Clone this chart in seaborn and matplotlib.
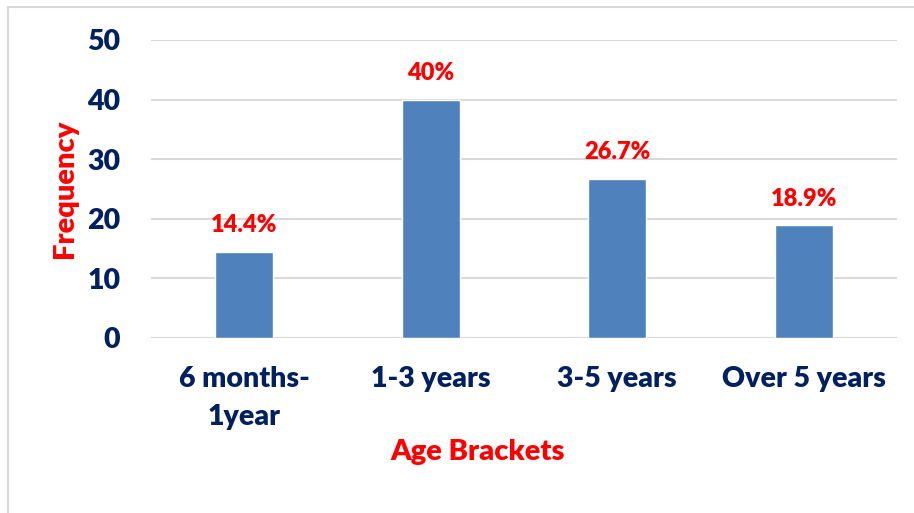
import matplotlib
matplotlib.use("Agg")
import matplotlib.pyplot as plt
import seaborn as sns
import pandas as pd

categories = ["6 months-\n1year", "1-3 years", "3-5 years", "Over 5 years"]
frequency = [14.4, 40, 26.7, 18.9]
value_labels = ["14.4%", "40%", "26.7%", "18.9%"]
y_ticks = [0, 10, 20, 30, 40, 50]

sns.set_theme(style="white")
plt.rcParams["font.family"] = ["Lato", "DejaVu Sans"]

navy = "#002060"
red = "#FF0000"
bar_color = "#4F81BD"
weight = "heavy"

df = pd.DataFrame({"Age Brackets": categories, "Frequency": frequency})

fig = plt.figure(figsize=(9.14, 5.13), dpi=100)
ax = fig.add_axes([151 / 914, 1 - 338 / 513, (897 - 151) / 914, (338 - 40) / 513])

sns.barplot(data=df, x="Age Brackets", y="Frequency", color=bar_color,
            width=0.31, saturation=1, ax=ax, zorder=3)

ax.set_ylim(0, 50)
ax.set_xlim(-0.5, 3.5)
ax.set_yticks(y_ticks)
ax.yaxis.grid(True, color="#D9D9D9", linewidth=1.5, zorder=0)
for s in ax.spines.values():
    s.set_visible(False)
ax.tick_params(axis="both", length=0)
ax.tick_params(axis="y", pad=22)
ax.tick_params(axis="x", pad=20)
for t in ax.get_yticklabels() + ax.get_xticklabels():
    t.set_color(navy)
    t.set_fontweight(weight)
    t.set_fontsize(20.5)
for t in ax.get_xticklabels():
    t.set_linespacing(1.6)

for i, (v, lab) in enumerate(zip(frequency, value_labels)):
    ax.text(i, v + 4.5, lab, ha="center", va="center", color=red,
            fontsize=17, fontweight=weight)

ax.set_ylabel("Frequency", color=red, fontsize=21, fontweight=weight)
ax.set_xlabel("Age Brackets", color=red, fontsize=21, fontweight=weight)
ax.yaxis.set_label_coords((65 - 151) / 746, 0.5)
ax.xaxis.set_label_coords((478 - 151) / 746, -(452 - 338) / 298)
ax.xaxis.label.set_va("center")
ax.yaxis.label.set_va("center")

# light chart-area frame along the top and left
fig.add_artist(plt.Line2D([8 / 914, 1], [1 - 7 / 513, 1 - 7 / 513],
                          color="#D9D9D9", linewidth=1.5, transform=fig.transFigure))
fig.add_artist(plt.Line2D([8 / 914, 8 / 914], [0, 1 - 7 / 513],
                          color="#D9D9D9", linewidth=1.5, transform=fig.transFigure))

fig.savefig("out.png", dpi=100, facecolor="white")
